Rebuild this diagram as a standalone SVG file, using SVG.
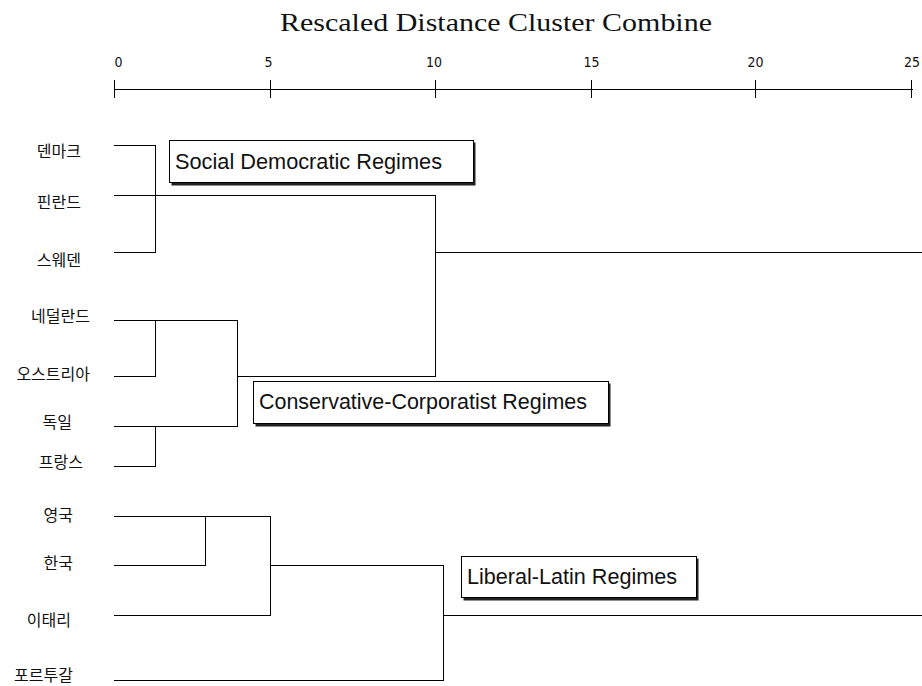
<svg xmlns="http://www.w3.org/2000/svg" width="922" height="686" viewBox="0 0 922 686">
<style>
.ln{stroke:#000;stroke-width:1;fill:none;shape-rendering:crispEdges}
.lab{font-family:"Noto Sans CJK KR","Noto Sans",sans-serif;font-size:16px;fill:#111;text-anchor:end}
.tick{font-family:"Liberation Sans Narrow","DejaVu Sans Condensed","Liberation Sans",sans-serif;font-size:14px;fill:#111;text-anchor:middle}
.ttl{font-family:"Liberation Serif","DejaVu Serif",serif;font-size:26px;fill:#111}
.box{fill:#fff;stroke:#000;stroke-width:1;shape-rendering:crispEdges}
.shd{fill:#222}
.bt{font-family:"Liberation Sans",Arial,sans-serif;font-size:22px;fill:#111}
</style>
<rect width="922" height="686" fill="#fff"/>
<g id="title"><text class="ttl" x="280" y="31" textLength="432" lengthAdjust="spacingAndGlyphs">Rescaled Distance Cluster Combine</text></g>
<g id="axis">
<path class="ln" d="M114.5 89.5H912.5M114.5 80V98M270.5 80V98M435.5 80V98M591.5 80V98M755.5 80V98M911.5 80V98"/>
<text class="tick" x="118.5" y="67">0</text>
<text class="tick" x="268.5" y="67">5</text>
<text class="tick" x="434" y="67">10</text>
<text class="tick" x="591.5" y="67">15</text>
<text class="tick" x="755.5" y="67">20</text>
<text class="tick" x="912" y="67">25</text>
</g>
<g id="connectors">
<path class="ln" d="M114 145.5H155.5V252.5H114M114 195.5H435.5V376.5M435.5 252.5H922"/>
<path class="ln" d="M114 320.5H237.5V426.5H114M114 376.5H155.5V320.5M237.5 376.5H435.5M155.5 426.5V466.5H114"/>
<path class="ln" d="M114 516.5H270.5V615.5H114M205.5 516.5V565.5H114M270.5 565.5H443.5V680.5H114M443.5 615.5H922"/>
</g>
<g id="leaf-denmark"><text class="lab" x="81" y="157">덴마크</text></g>
<g id="leaf-finland"><text class="lab" x="81" y="208">핀란드</text></g>
<g id="leaf-sweden"><text class="lab" x="81" y="266">스웨덴</text></g>
<g id="leaf-netherlands"><text class="lab" x="90" y="322">네덜란드</text></g>
<g id="leaf-austria"><text class="lab" x="90" y="380">오스트리아</text></g>
<g id="leaf-germany"><text class="lab" x="72" y="428">독일</text></g>
<g id="leaf-france"><text class="lab" x="83" y="468">프랑스</text></g>
<g id="leaf-uk"><text class="lab" x="73" y="521">영국</text></g>
<g id="leaf-korea"><text class="lab" x="73" y="569">한국</text></g>
<g id="leaf-italy"><text class="lab" x="71" y="626">이태리</text></g>
<g id="leaf-portugal"><text class="lab" x="73" y="681">포르투갈</text></g>
<g id="box-social">
<rect class="shd" x="171.5" y="142.5" width="304" height="43"/>
<rect class="box" x="169.5" y="140.5" width="304" height="42"/>
<text class="bt" x="175" y="169" textLength="267" lengthAdjust="spacingAndGlyphs">Social Democratic Regimes</text>
</g>
<g id="box-conservative">
<rect class="shd" x="255.5" y="383.5" width="355" height="43"/>
<rect class="box" x="253.5" y="381.5" width="355" height="42"/>
<text class="bt" x="259" y="409" textLength="328" lengthAdjust="spacingAndGlyphs">Conservative-Corporatist Regimes</text>
</g>
<g id="box-liberal">
<rect class="shd" x="463.5" y="558.5" width="235" height="42"/>
<rect class="box" x="461.5" y="556.5" width="235" height="41"/>
<text class="bt" x="467" y="584" textLength="210" lengthAdjust="spacingAndGlyphs">Liberal-Latin Regimes</text>
</g>
</svg>
